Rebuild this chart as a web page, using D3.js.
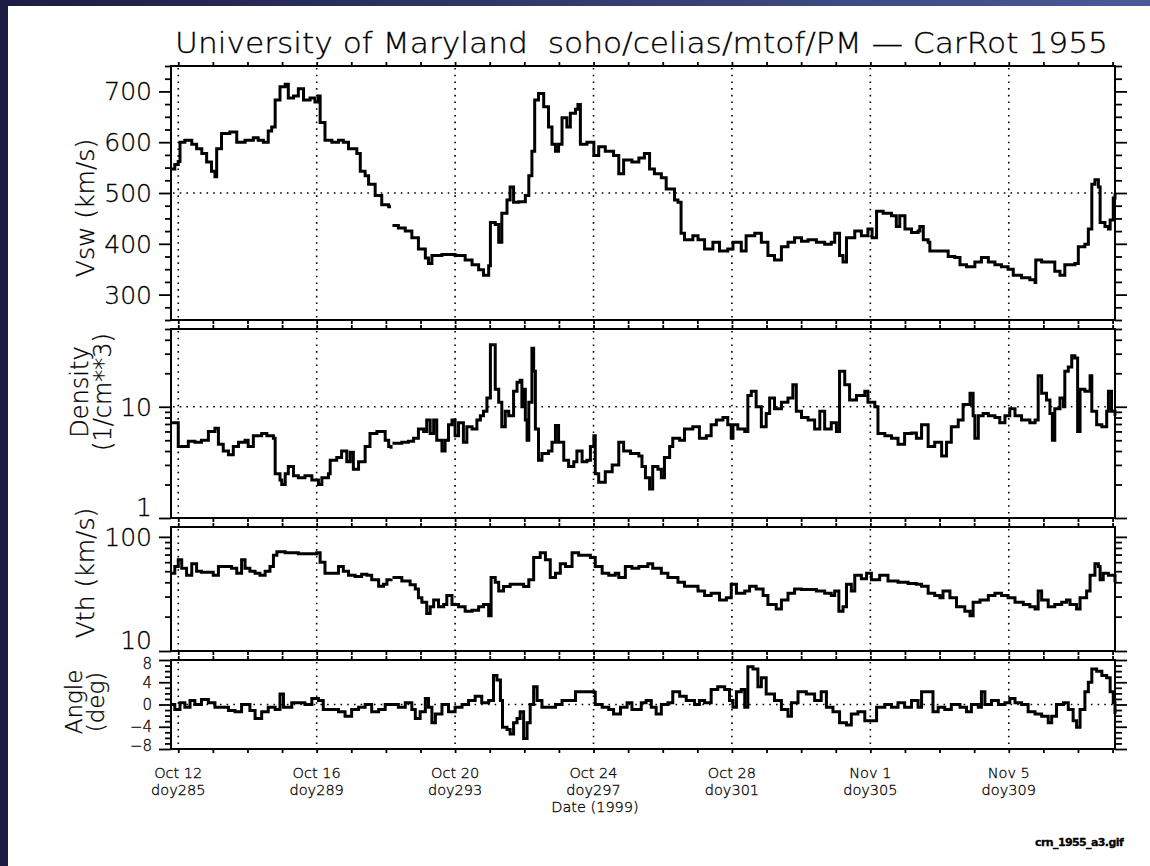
<!DOCTYPE html>
<html>
<head>
<meta charset="utf-8">
<script src="https://cdn.jsdelivr.net/npm/d3@7"></script>
<style>
body { margin: 0; background: #fff; }
text { font-family: "DejaVu Sans", sans-serif; font-weight: 200; fill: #000; stroke: #000; stroke-width: 0.3px; white-space: pre; }
</style>
</head>
<body>
<script>
var svgWidth = 1150;
var svgHeight = 866;

//x axis: day of year 1999, major ticks every 4 days
var majorDays = [285, 289, 293, 297, 301, 305, 309];
var dateLabels = ["Oct 12", "Oct 16", "Oct 20", "Oct 24", "Oct 28", "Nov 1", "Nov 5"];
var doyLabels = ["doy285", "doy289", "doy293", "doy297", "doy301", "doy305", "doy309"];
var minorDays = [285,286,287,288,289,290,291,292,293,294,295,296,297,298,299,300,301,302,303,304,305,306,307,308,309,310,311,312];

//y ticks
var vswMajor = [300, 400, 500, 600, 700];
var vswMinor = [250,275,325,350,375,425,450,475,525,550,575,625,650,675,725,750];
var denMajor = [1, 10];
var denMinor = [2,3,4,5,6,7,8,9,20,30,40,50];
var vthMajor = [10, 100];
var vthMinor = [20,30,40,50,60,70,80,90];
var angMajor = [-8, -4, 0, 4, 8];
var angMinor = [-7,-6,-5,-3,-2,-1,1,2,3,5,6,7];

//solar wind speed (km/s), [day, value], null = data gap
var vsw = [
[284.79,547],[284.90,556],[285.00,562],[285.05,600],[285.19,604],[285.39,596],[285.53,587],[285.68,578],
[285.82,561],[285.96,543],[286.06,532],[286.11,587],[286.25,617],[286.49,620],[286.69,600],[286.93,604],
[287.17,609],[287.31,604],[287.46,600],[287.60,622],[287.70,630],[287.80,683],[287.94,709],[288.09,714],
[288.18,687],[288.33,691],[288.47,705],[288.62,683],[288.81,687],[288.95,679],[289.05,691],[289.10,639],
[289.24,604],[289.44,600],[289.63,604],[289.77,600],[289.92,587],[290.16,578],[290.26,543],[290.40,534],
[290.50,517],[290.69,495],[290.88,477],[291.08,473],[291.15,473],[291.17,null],[291.19,436],[291.36,431],
[291.56,425],[291.75,412],[291.94,390],[292.14,372],[292.23,361],[292.33,377],[292.62,379],[293.00,377],
[293.29,368],[293.49,359],[293.68,349],[293.82,338],[293.97,357],[294.02,442],[294.16,438],[294.26,403],
[294.35,460],[294.50,486],[294.59,512],[294.69,482],[294.84,483],[295.03,495],[295.13,534],[295.22,582],
[295.30,683],[295.41,696],[295.56,670],[295.70,630],[295.80,596],[295.90,582],[295.99,596],[296.09,648],
[296.23,630],[296.33,657],[296.48,665],[296.55,674],[296.62,596],[296.81,600],[297.01,574],[297.15,591],
[297.34,582],[297.58,574],[297.73,538],[297.87,565],[298.11,561],[298.31,569],[298.47,578],[298.62,547],
[298.76,538],[298.96,530],[299.10,508],[299.34,486],[299.44,482],[299.53,421],[299.63,408],[299.87,416],
[300.02,408],[300.21,390],[300.45,403],[300.64,386],[300.88,390],[301.03,403],[301.27,386],[301.41,416],
[301.66,421],[301.85,403],[302.04,377],[302.23,368],[302.43,394],[302.62,403],[302.81,412],[303.01,405],
[303.20,408],[303.44,403],[303.68,399],[303.87,403],[303.97,421],[304.11,377],[304.21,364],[304.31,412],
[304.55,425],[304.74,416],[304.93,429],[305.05,412],[305.18,464],[305.37,460],[305.61,455],[305.75,434],
[305.85,455],[306.00,429],[306.19,422],[306.38,425],[306.43,434],[306.53,408],[306.67,403],[306.72,386],
[306.96,386],[307.25,375],[307.44,373],[307.59,359],[307.78,355],[308.02,364],[308.21,373],[308.41,364],
[308.60,359],[308.79,355],[308.98,350],[309.13,338],[309.37,333],[309.61,329],[309.76,324],[309.78,368],
[309.95,364],[310.19,364],[310.33,346],[310.48,338],[310.62,359],[310.91,361],[311.01,394],[311.20,399],
[311.30,429],[311.40,517],[311.49,526],[311.59,512],[311.64,442],[311.78,434],[311.88,429],[311.93,447],
[312.02,490],[312.07,499]
];

//proton density (1/cm**3)
var density = [
[284.79,7.2],[284.95,7.2],[285.00,4.4],[285.14,4.4],[285.29,4.9],[285.48,4.8],[285.67,5.0],[285.87,6.0],
[286.06,6.4],[286.16,4.6],[286.30,4.0],[286.45,3.7],[286.59,4.4],[286.74,4.8],[286.93,5.0],[287.02,4.4],
[287.17,5.5],[287.41,5.75],[287.56,5.5],[287.75,5.2],[287.80,2.5],[287.94,2.2],[287.99,2.0],[288.09,2.5],
[288.18,2.9],[288.33,2.4],[288.47,2.3],[288.66,2.4],[288.86,2.2],[289.05,2.0],[289.15,2.3],[289.34,2.5],
[289.39,3.3],[289.58,3.5],[289.72,4.0],[289.87,3.2],[289.97,3.9],[290.06,2.75],[290.21,3.2],[290.40,4.4],
[290.54,5.75],[290.74,6.0],[290.98,5.0],[291.08,4.4],[291.15,4.2],[291.17,null],[291.19,4.7],[291.46,4.8],
[291.65,4.9],[291.80,5.2],[291.94,6.3],[292.09,6.0],[292.18,7.6],[292.28,5.75],[292.38,7.6],[292.47,5.0],
[292.62,4.0],[292.71,5.0],[292.81,6.9],[292.91,7.6],[293.00,5.5],[293.10,7.2],[293.24,4.8],[293.34,6.6],
[293.49,6.3],[293.63,7.6],[293.73,8.3],[293.82,9.1],[293.92,12.0],[294.02,36],[294.11,36],[294.16,14.4],
[294.26,11.0],[294.35,6.6],[294.45,9.1],[294.55,8.3],[294.69,13.8],[294.79,16.6],[294.88,17.3],[294.93,10],
[294.98,14.4],[295.03,7.6],[295.08,5.0],[295.13,11],[295.22,33.5],[295.27,20.8],[295.32,6.3],[295.41,3.3],
[295.51,3.8],[295.70,4.0],[295.80,4.8],[295.90,6.8],[295.99,4.8],[296.14,3.3],[296.28,2.9],[296.43,3.2],
[296.52,4.0],[296.67,3.2],[296.81,3.3],[296.91,4.4],[297.01,5.5],[297.05,2.5],[297.15,2.1],[297.34,2.6],
[297.54,3.0],[297.73,4.8],[297.87,4.0],[298.07,3.8],[298.31,3.6],[298.40,2.9],[298.50,2.3],[298.62,1.82],
[298.71,2.9],[298.86,2.75],[298.96,2.3],[299.05,3.5],[299.20,4.4],[299.29,5.2],[299.49,5.0],[299.63,6.3],
[299.87,6.6],[300.06,5.2],[300.26,5.5],[300.40,6.9],[300.55,7.6],[300.74,8.0],[300.88,6.9],[300.98,5.2],
[301.03,6.9],[301.17,6.3],[301.37,6.0],[301.46,12.6],[301.56,13.8],[301.70,10],[301.85,6.6],[301.99,8.7],
[302.09,12.0],[302.23,9.6],[302.43,11],[302.62,12.0],[302.76,15.8],[302.86,9.1],[303.01,8.0],[303.20,7.6],
[303.39,6.3],[303.54,9.1],[303.68,6.3],[303.87,7.2],[304.02,6.0],[304.11,20.8],[304.26,15.8],[304.40,11.5],
[304.60,12.6],[304.84,13.8],[304.93,11.0],[305.13,10],[305.22,5.75],[305.42,5.5],[305.61,5.2],[305.80,4.6],
[305.99,5.75],[306.19,5.8],[306.33,5.2],[306.48,6.9],[306.67,4.4],[306.86,4.8],[307.06,3.6],[307.20,4.8],
[307.34,6.6],[307.54,7.6],[307.68,10.5],[307.88,13.2],[307.97,8.3],[308.02,5.2],[308.12,8.3],[308.26,8.7],
[308.41,8.3],[308.60,8.0],[308.74,7.2],[308.89,8.3],[309.03,9.6],[309.18,8.3],[309.37,7.6],[309.61,7.2],
[309.76,7.6],[309.85,19.0],[309.95,13.2],[310.09,11.5],[310.19,8.7],[310.26,5.0],[310.33,9.6],[310.48,12.0],
[310.58,10],[310.62,20.8],[310.72,22.8],[310.82,28.7],[310.91,27.5],[310.99,6.0],[311.06,14.4],[311.20,13.8],
[311.35,19.0],[311.40,9.1],[311.54,6.9],[311.69,6.6],[311.83,9.1],[311.88,13.8],[311.97,9.1],[312.07,8.3]
];

//thermal speed (km/s)
var vth = [
[284.79,48],[284.90,55],[285.00,63],[285.10,53],[285.24,46],[285.39,58],[285.53,50],[285.67,49],
[285.87,49],[286.01,46],[286.16,55],[286.40,55],[286.54,53],[286.69,48],[286.83,63],[286.93,53],
[287.07,50],[287.22,48],[287.36,46],[287.51,50],[287.65,55],[287.75,69],[287.85,74],[288.09,72.5],
[288.47,71],[288.86,71],[289.00,72.5],[289.10,60],[289.24,48],[289.44,48],[289.63,55],[289.77,50],
[289.92,46],[290.11,45],[290.30,47],[290.45,46],[290.59,42],[290.79,37],[290.93,38.5],[291.03,42],
[291.15,43],[291.17,null],[291.19,44],[291.46,41],[291.70,38],[291.85,35],[291.94,29.3],[292.04,26.8],
[292.18,21.3],[292.28,24.4],[292.38,28],[292.52,24.4],[292.67,25.5],[292.76,30.7],[292.91,25.5],[293.10,24.4],
[293.29,22.3],[293.49,22.7],[293.68,24.4],[293.82,25.5],[293.97,20.4],[294.04,44],[294.16,40],[294.26,33.6],
[294.40,36.8],[294.59,38.5],[294.79,38.5],[294.98,36.8],[295.13,42],[295.27,66],[295.46,72.5],[295.61,63],
[295.75,44],[295.90,48],[296.04,58],[296.19,55],[296.38,72.5],[296.57,69],[296.76,69],[296.91,66],
[297.05,55],[297.25,48],[297.44,46],[297.63,48],[297.73,44],[297.92,55],[298.11,53],[298.31,55],
[298.57,58],[298.71,53],[298.96,48],[299.15,44],[299.44,40],[299.63,37],[299.87,37],[300.02,33.6],
[300.21,30.7],[300.40,32],[300.64,28],[300.84,29.3],[300.98,38.5],[301.13,32],[301.37,33.6],[301.51,37],
[301.70,35],[301.90,30.7],[302.04,25.5],[302.28,23.3],[302.43,28],[302.62,32],[302.81,35],[303.01,34.5],
[303.25,34.5],[303.44,33.6],[303.68,32],[303.87,30.7],[303.97,33.6],[304.09,22.3],[304.21,24.4],[304.31,38.5],
[304.45,33.6],[304.55,46],[304.74,43],[304.89,48],[305.03,42],[305.27,46],[305.51,41],[305.80,40],
[306.09,39],[306.33,38.5],[306.48,37],[306.67,32],[306.86,30.7],[307.01,29.3],[307.10,33.6],[307.30,29.3],
[307.49,24.4],[307.73,22.3],[307.88,20.4],[307.97,26.8],[308.17,28],[308.41,30.7],[308.60,32],[308.79,30.7],
[308.98,29.3],[309.18,26.8],[309.42,25.5],[309.61,24.4],[309.76,23.3],[309.85,33.6],[309.95,28],[310.14,24.4],
[310.33,25.5],[310.53,26.8],[310.67,28],[310.77,25.5],[310.96,23.3],[311.06,29.3],[311.25,33.6],[311.35,46],
[311.49,58],[311.59,55],[311.64,42],[311.73,48],[311.88,46],[312.07,40]
];

//flow angle (deg)
var angle = [
[284.79,0],[284.90,-0.9],[285.05,0.3],[285.19,-0.5],[285.34,0.7],[285.48,0],[285.67,0.9],[285.87,0.3],
[286.06,-0.5],[286.25,-0.5],[286.45,-1.1],[286.64,-1.3],[286.83,0],[287.07,-1.1],[287.22,-2.5],[287.41,-1.3],
[287.60,-0.5],[287.80,-0.9],[287.94,1.9],[288.04,-0.5],[288.28,0.3],[288.47,0.3],[288.66,0],[288.86,1.1],
[289.05,0.7],[289.19,-0.9],[289.44,-0.9],[289.63,-1.3],[289.82,-2.1],[290.01,-0.9],[290.21,-0.5],[290.40,0],
[290.59,-1.3],[290.79,-0.9],[290.98,0],[291.17,0],[291.36,-0.5],[291.56,0.3],[291.75,-0.9],[291.85,-2.5],
[291.99,-1.3],[292.14,1.1],[292.23,-0.5],[292.33,-3.3],[292.43,-1.7],[292.62,0],[292.81,-1.3],[293.00,-0.5],
[293.20,0],[293.39,0.7],[293.58,1.5],[293.77,0.3],[293.97,0.7],[294.11,5.2],[294.21,4.4],[294.31,0.7],
[294.37,-4.1],[294.50,-4.5],[294.59,-5.3],[294.69,-3.3],[294.79,-2.5],[294.88,-1.3],[294.98,-6.1],[295.08,-3.3],
[295.17,0],[295.27,3.2],[295.37,0.7],[295.51,-0.5],[295.70,-0.5],[295.90,0],[296.09,0.7],[296.28,0.7],
[296.48,2.3],[296.76,2.3],[297.01,2.2],[297.05,0],[297.25,-0.5],[297.44,-0.9],[297.58,-1.7],[297.78,-0.5],
[297.97,0.3],[298.11,-0.9],[298.31,-0.9],[298.38,0.3],[298.52,0.7],[298.67,-0.5],[298.81,-1.7],[298.96,0],
[299.15,0.3],[299.29,2.3],[299.49,1.5],[299.68,0.7],[299.92,0],[300.06,0.7],[300.21,0.3],[300.40,2.7],
[300.59,3.2],[300.79,2.7],[300.93,0.7],[301.03,-0.5],[301.13,2.3],[301.27,2.7],[301.37,-0.5],[301.46,6.8],
[301.61,6.4],[301.75,3.2],[301.85,4.8],[301.99,1.9],[302.23,0.7],[302.43,-0.9],[302.62,-2.1],[302.72,0.3],
[302.91,2.3],[303.15,1.9],[303.39,0.7],[303.58,2.3],[303.73,-0.5],[303.92,-1.3],[304.11,-3.3],[304.31,-3.7],
[304.45,-1.7],[304.64,-1.3],[304.84,-2.9],[305.03,-2.9],[305.18,-0.5],[305.42,0],[305.61,-0.5],[305.80,0.3],
[305.99,-0.5],[306.19,0.7],[306.38,-0.5],[306.48,2.3],[306.67,2.3],[306.81,-1.3],[306.96,-0.5],[307.15,-0.9],
[307.34,0],[307.59,-0.5],[307.78,-1.3],[307.92,0],[308.12,-0.5],[308.21,2.3],[308.31,0],[308.50,0.7],
[308.70,0],[308.89,0.3],[309.03,1.1],[309.18,0.3],[309.37,0],[309.56,-1.3],[309.76,-1.7],[309.95,-2.1],
[310.14,-3.3],[310.24,-2.1],[310.38,0],[310.58,0.3],[310.72,-0.9],[310.86,-2.9],[310.96,-4.1],[311.06,-0.9],
[311.20,2.3],[311.30,4.0],[311.40,6.4],[311.54,6.0],[311.69,5.2],[311.83,4.8],[311.93,2.3],[312.02,0.3],
[312.07,-1.7]
];

//create SVG
var svg = d3.select("body")
    .append("svg")
    .attr("width", svgWidth)
    .attr("height", svgHeight);

//dark blue page frame at top and left
var grad = svg.append("defs").append("linearGradient").attr("id", "band");
grad.append("stop").attr("offset", "0").attr("stop-color", "#1c1c44");
grad.append("stop").attr("offset", "1").attr("stop-color", "#4a5a98");
svg.append("rect").attr("width", svgWidth).attr("height", 6).attr("fill", "url(#band)");
svg.append("rect").attr("width", 8).attr("height", svgHeight).attr("fill", "#1c1c44");

var x = d3.scaleLinear().domain([284.79, 312.07]).range([171, 1115]);

var panels = [
    {data: vsw, y: d3.scaleLinear().domain([250, 750]).range([320, 66]), major: vswMajor, minor: vswMinor, grid: [500]},
    {data: density, y: d3.scaleLog().domain([1, 50]).range([518, 329]), major: denMajor, minor: denMinor, grid: [10]},
    {data: vth, y: d3.scaleLog().domain([10, 122]).range([651, 527]), major: vthMajor, minor: vthMinor, grid: []},
    {data: angle, y: d3.scaleLinear().domain([-8, 8]).range([749, 660]), major: angMajor, minor: angMinor, grid: [0]}
];

var dotted = "1.6,5.1";

panels.forEach(function(p, i) {
    var top = p.y.range()[1], bottom = p.y.range()[0];
    var g = svg.append("g");

    //dotted grid
    g.selectAll(".vgrid").data(majorDays).enter().append("line")
        .attr("x1", function(d) { return x(d); }).attr("x2", function(d) { return x(d); })
        .attr("y1", top + 2).attr("y2", bottom - 1)
        .style("stroke", "#000").style("stroke-width", 1.6).style("stroke-dasharray", dotted);
    g.selectAll(".hgrid").data(p.grid).enter().append("line")
        .attr("x1", x.range()[0] + 2).attr("x2", x.range()[1] - 1)
        .attr("y1", function(d) { return p.y(d); }).attr("y2", function(d) { return p.y(d); })
        .style("stroke", "#000").style("stroke-width", 1.6).style("stroke-dasharray", dotted);

    //data line
    var line = d3.line()
        .defined(function(d) { return d[1] !== null; })
        .x(function(d) { return x(d[0]); })
        .y(function(d) { return p.y(d[1]); })
        .curve(d3.curveStepAfter);
    g.append("path").datum(p.data).attr("d", line)
        .style("fill", "none").style("stroke", "#000").style("stroke-width", 3);

    //y axes, ticks outward on both sides
    var yl = g.append("g").attr("transform", "translate(" + x.range()[0] + ",0)");
    yl.call(d3.axisLeft(p.y).tickValues(p.major).tickSize(12).tickFormat(""));
    yl.append("g").call(d3.axisLeft(p.y).tickValues(p.minor).tickSize(6).tickFormat(""));
    var yr = g.append("g").attr("transform", "translate(" + x.range()[1] + ",0)");
    yr.call(d3.axisRight(p.y).tickValues(p.major).tickSize(12).tickFormat(""));
    yr.append("g").call(d3.axisRight(p.y).tickValues(p.minor).tickSize(7).tickFormat(""));

    //x ticks on top and bottom of every panel
    g.append("g").attr("transform", "translate(0," + top + ")")
        .call(d3.axisTop(x).tickValues(minorDays).tickSize(4).tickFormat(""));
    g.append("g").attr("transform", "translate(0," + bottom + ")")
        .call(d3.axisBottom(x).tickValues(minorDays).tickSize(4).tickFormat(""));

    g.selectAll(".domain").remove();
    g.selectAll(".tick line").style("stroke", "#000").style("stroke-width", 1.8);

    //frame
    g.append("rect").attr("x", x.range()[0]).attr("y", top)
        .attr("width", x.range()[1] - x.range()[0]).attr("height", bottom - top)
        .style("fill", "none").style("stroke", "#000").style("stroke-width", 2);

    //tick labels, pushed inside at the panel edges
    var small = (i == 3);
    g.selectAll(".lab").data(p.major).enter().append("text")
        .attr("x", 152)
        .attr("y", function(d) {
            var yy = p.y(d);
            if (Math.abs(yy - bottom) < 1) yy -= small ? 3 : 11;
            if (Math.abs(yy - top) < 1) yy += 4;
            return yy;
        })
        .attr("dy", "0.36em")
        .attr("text-anchor", "end")
        .style("font-size", small ? "15px" : "25px")
        .text(function(d) { return d < 0 ? "\u2212" + Math.abs(d) : d; });
});

//axis titles
function yTitle(lines, cx, cy, size) {
    var t = svg.append("text")
        .attr("transform", "translate(" + cx + "," + cy + ") rotate(-90)")
        .attr("text-anchor", "middle")
        .style("font-size", size + "px");
    lines.forEach(function(s, k) {
        t.append("tspan").attr("x", 0).attr("dy", k == 0 ? 0 : "0.95em").text(s);
    });
}
yTitle(["Vsw (km/s)"], 94, 208, 25);
yTitle(["Density", "(1/cm**3)"], 88, 392, 24);
yTitle(["Vth (km/s)"], 94, 573, 25);
yTitle(["Angle", "(deg)"], 82, 702, 23);

//x labels
var xl = svg.append("g");
xl.selectAll(".date").data(majorDays).enter().append("text")
    .attr("x", function(d) { return x(d); }).attr("y", 777.5)
    .attr("text-anchor", "middle").style("font-size", "14.5px")
    .text(function(d, k) { return dateLabels[k]; });
xl.selectAll(".doy").data(majorDays).enter().append("text")
    .attr("x", function(d) { return x(d); }).attr("y", 794.5)
    .attr("text-anchor", "middle").style("font-size", "14.5px")
    .text(function(d, k) { return doyLabels[k]; });
svg.append("text").attr("x", 595).attr("y", 812).attr("text-anchor", "middle")
    .style("font-size", "14.5px").text("Date (1999)");

//title
svg.append("text").attr("x", 175).attr("y", 53)
    .attr("textLength", 933).attr("lengthAdjust", "spacingAndGlyphs")
    .style("font-size", "28px")
    .text("University of Maryland  soho/celias/mtof/PM \u2014 CarRot 1955");

//file name, cut by the right edge
svg.append("text").attr("x", 1035).attr("y", 846)
    .style("font-size", "11px").style("font-weight", "bold").style("letter-spacing", "-0.6px")
    .text("crn_1955_a3.gif");
</script>
</body>
</html>
